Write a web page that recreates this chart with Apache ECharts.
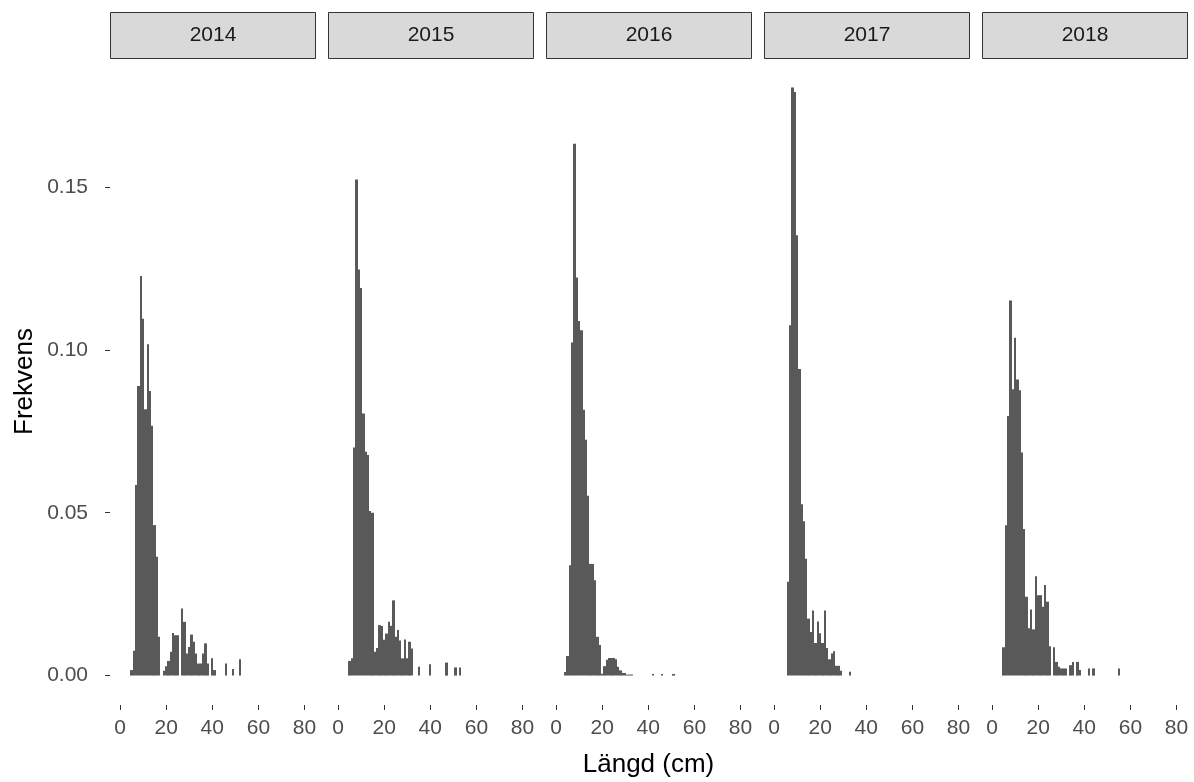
<!DOCTYPE html>
<html>
<head>
<meta charset="utf-8">
<script src="https://cdn.jsdelivr.net/npm/echarts@6/dist/echarts.min.js"></script>
<style>
html,body{margin:0;padding:0;background:#ffffff;}
#chart{width:1194px;height:782px;}
</style>
</head>
<body>
<div id="chart"></div>
<script>
// ---- data ----
const years = ['2014', '2015', '2016', '2017', '2018'];
const firstBin = [5, 5, 4, 6, 5];          // length (cm) of the first bin of each year
const binWidth = 1;                          // cm
const freq2014 = [0.0017,0.0076,0.0585,0.0889,0.1227,0.1096,0.0818,0.1017,0.0874,0.0767,0.0462,0.0365,0.0119,0,
  0.0015,0.0029,0.0045,0.0073,0.0131,0.0124,0.0124,0,0.0206,0.0165,0.0068,0.0088,0.0126,0.0104,0.0068,0.0037,
  0.0037,0.0068,0.0099,0.0037,0,0.0053,0.0017,0,0,0,0,0.0037,0,0,0.0020,0,0,0.0050];
const freq2015 = [0.0045,0.0053,0.0700,0.1523,0.1247,0.1190,0.0805,0.0687,0.0677,0.0505,0.0500,0.0073,0.0085,
  0.0155,0.0152,0.0110,0.0129,0.0165,0.0153,0.0231,0.0119,0.0140,0.0108,0.0053,0.0111,0.0053,0.0104,0.0083,
  0,0,0.0027,0,0,0,0,0.0035,0,0,0,0,0,0,0.0040,0,0,0,0.0025,0,0.0025];
const freq2016 = [0.0011,0.0060,0.0339,0.1023,0.1633,0.1222,0.1089,0.1060,0.0816,0.0724,0.0552,0.0343,0.0343,
  0.0293,0.0119,0.0094,0.0006,0.0029,0.0049,0.0054,0.0054,0.0054,0.0050,0.0027,0.0016,0.0008,0.0008,0.0003,
  0.0003,0.0003,0,0,0,0,0,0,0,0,0.0005,0,0,0,0.0005,0,0,0,0,0.0005];
const freq2017 = [0.0288,0.1076,0.1806,0.1792,0.1352,0.0941,0.0526,0.0474,0.0359,0.0175,0.0134,0.0200,0.0100,
  0.0166,0.0130,0.0100,0.0200,0.0085,0.0050,0.0068,0.0075,0.0030,0.0030,0.0015,0,0,0,0.0012];
const freq2018 = [0.0087,0.0462,0.0797,0.1152,0.0879,0.1037,0.0909,0.0876,0.0685,0.0450,0.0242,0.0145,0.0203,
  0.0142,0.0305,0.0247,0.0247,0.0211,0.0278,0.0227,0.0090,0,0.0087,0.0042,0.0027,0.0022,0.0022,0.0022,0,
  0.0032,0.0042,0,0.0042,0.0017,0,0,0,0.0022,0,0.0022,0,0,0,0,0,0,0,0,0,0,0.0022];
const xTicks = [0, 20, 40, 60, 80];
const yTicks = [0, 0.05, 0.10, 0.15];
const xTitle = 'Längd (cm)';
const yTitle = 'Frekvens';

// ---- layout / style ----
const FONT = '"Liberation Sans", Arial, sans-serif';
const PANEL_LEFT = 110, PANEL_STEP = 218, PANEL_W = 205, PANEL_TOP = 58, PANEL_H = 647;
const STRIP_TOP = 12, STRIP_H = 46;
const X_MIN = -4.35, X_MAX = 84.55, Y_MIN = -0.00903, Y_MAX = 0.18963;
const BAR = '#595959';

const allFreq = [freq2014, freq2015, freq2016, freq2017, freq2018];

const grids = [], xAxes = [], yAxes = [], series = [], graphics = [];
years.forEach((yr, i) => {
  const left = PANEL_LEFT + PANEL_STEP * i;
  grids.push({ left: left, top: PANEL_TOP, width: PANEL_W, height: PANEL_H,
    containLabel: false, outerBoundsMode: 'none' });
  xAxes.push({
    type: 'value', gridIndex: i, min: X_MIN, max: X_MAX,
    axisLine: { show: false, onZero: false }, splitLine: { show: false },
    axisTick: { show: true, length: 5, customValues: xTicks, lineStyle: { color: '#333333', width: 1 } },
    axisLabel: { customValues: xTicks, fontSize: 21, color: '#4D4D4D', fontFamily: FONT, margin: 13 }
  });
  yAxes.push({
    type: 'value', gridIndex: i, min: Y_MIN, max: Y_MAX,
    axisLine: { show: false, onZero: false }, splitLine: { show: false },
    axisTick: { show: i === 0, length: 5, customValues: yTicks, lineStyle: { color: '#333333', width: 1 } },
    axisLabel: { show: i === 0, customValues: yTicks, fontSize: 21, color: '#4D4D4D', fontFamily: FONT, margin: 22,
      formatter: v => v.toFixed(2) },
    name: i === 0 ? yTitle : '', nameLocation: 'middle', nameGap: 72, nameRotate: 90,
    nameTextStyle: { fontSize: 26, color: '#000000', fontFamily: FONT }
  });
  const data = allFreq[i].map((f, k) => [firstBin[i] + k * binWidth, f]).filter(d => d[1] > 0);
  series.push({
    type: 'custom', xAxisIndex: i, yAxisIndex: i, data: data,
    renderItem: (params, api) => {
      const x = api.value(0), y = api.value(1);
      const p0 = api.coord([x - binWidth / 2, y]);
      const p1 = api.coord([x + binWidth / 2, 0]);
      const xl = Math.round(p0[0]), xr = Math.round(p1[0]);
      return { type: 'rect', shape: { x: xl, y: p0[1], width: Math.max(1, xr - xl), height: p1[1] - p0[1] },
        style: { fill: BAR } };
    }
  });
  graphics.push({
    type: 'rect', left: left, top: STRIP_TOP,
    shape: { width: PANEL_W, height: STRIP_H },
    style: { fill: '#D9D9D9', stroke: '#333333', lineWidth: 1 },
    textContent: { style: { text: yr, fontSize: 21, fill: '#1A1A1A', fontFamily: FONT } },
    textConfig: { position: 'inside' }
  });
});
// x-axis title, centred under the row of panels
graphics.push({
  type: 'text', x: PANEL_LEFT + (PANEL_STEP * 4 + PANEL_W) / 2, y: 765,
  style: { text: xTitle, fontSize: 26, fill: '#000000', fontFamily: FONT, align: 'center', verticalAlign: 'middle' }
});

const chart = echarts.init(document.getElementById('chart'), null, { renderer: 'canvas' });
chart.setOption({
  animation: false,
  backgroundColor: '#ffffff',
  grid: grids, xAxis: xAxes, yAxis: yAxes, series: series, graphic: graphics
});
</script>
</body>
</html>
